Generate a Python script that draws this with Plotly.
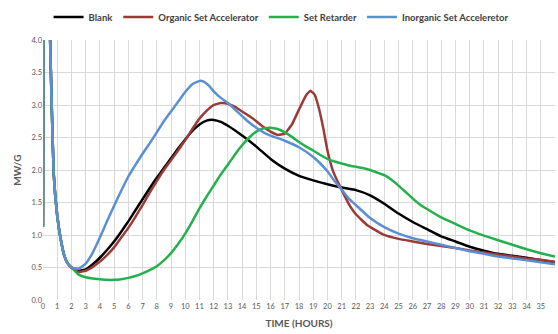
import plotly.graph_objects as go

# ---- data ----
t_early = [0, 0.1, 0.3, 0.5, 0.6, 0.75, 1.0, 1.25, 1.5, 1.75, 2.0]
v_early = [1.13, 9.0, 6.0, 4.0, 3.1, 1.95, 1.3, 0.93, 0.68, 0.56, 0.5]

blank_t = [2.5, 3, 3.5, 4, 4.5, 5, 5.5, 6, 6.5, 7, 7.5, 8, 8.5, 9, 9.5, 10, 10.5, 11, 11.5, 12, 12.5, 13,
           14, 15, 16, 17, 18, 19, 20, 21, 22, 23, 24, 25, 26, 27, 28, 29, 30, 31, 32, 33, 34, 35, 36]
blank_v = [0.45, 0.47, 0.55, 0.65, 0.77, 0.9, 1.05, 1.21, 1.38, 1.55, 1.72, 1.88, 2.03, 2.18, 2.33, 2.47, 2.6,
           2.7, 2.76, 2.77, 2.74, 2.68, 2.53, 2.36, 2.17, 2.02, 1.91, 1.84, 1.78, 1.73, 1.69, 1.61, 1.48,
           1.33, 1.2, 1.09, 0.98, 0.9, 0.82, 0.76, 0.71, 0.68, 0.65, 0.61, 0.58]

organic_t = [2.5, 3, 3.5, 4, 4.5, 5, 5.5, 6, 6.5, 7, 7.5, 8, 8.5, 9, 9.5, 10, 10.5, 11, 11.5, 12, 12.5, 13,
             13.5, 14, 14.5, 15, 15.5, 16, 16.5, 17, 17.5, 18, 18.5, 18.8, 19.1, 19.4, 19.7, 20, 20.4, 20.9,
             21.6, 22, 22.8, 23.9, 25, 26, 27, 28, 29, 30, 31, 32, 33, 34, 35, 36]
organic_v = [0.43, 0.45, 0.51, 0.59, 0.69, 0.81, 0.96, 1.11, 1.28, 1.46, 1.65, 1.83, 2.0, 2.15, 2.3, 2.46, 2.63,
             2.79, 2.91, 3.0, 3.03, 3.02, 2.97, 2.9, 2.83, 2.75, 2.66, 2.59, 2.54, 2.56, 2.7, 2.93, 3.15,
             3.22, 3.16, 2.95, 2.65, 2.3, 1.98, 1.74, 1.44, 1.32, 1.15, 1.01, 0.94, 0.9, 0.86, 0.83, 0.8,
             0.76, 0.73, 0.7, 0.67, 0.64, 0.62, 0.59]

retarder_t = [2.5, 3, 3.5, 4, 4.5, 5, 5.5, 6, 6.5, 7, 7.5, 8, 8.5, 9, 9.5, 10, 10.5, 11, 11.5, 12, 12.5, 13,
              13.5, 14, 14.5, 15, 15.5, 16, 16.5, 17, 17.5, 18, 18.5, 19, 19.5, 20, 20.5, 21, 21.5, 22,
              22.5, 23, 23.5, 24, 24.5, 25, 25.5, 26, 26.5, 27, 28, 29, 30, 31, 32, 33, 34, 35, 36]
retarder_v = [0.39, 0.35, 0.33, 0.32, 0.31, 0.31, 0.32, 0.34, 0.37, 0.41, 0.46, 0.52, 0.61, 0.72, 0.86,
              1.02, 1.21, 1.41, 1.59, 1.76, 1.93, 2.08, 2.24, 2.38, 2.5, 2.59, 2.64, 2.65, 2.63, 2.58, 2.51,
              2.43, 2.36, 2.3, 2.23, 2.17, 2.13, 2.1, 2.07, 2.05, 2.03, 2.0, 1.96, 1.92, 1.85, 1.76, 1.66,
              1.56, 1.47, 1.4, 1.27, 1.17, 1.07, 0.99, 0.92, 0.85, 0.78, 0.72, 0.67]

inorganic_t = [2.5, 3, 3.5, 4, 4.5, 5, 5.5, 6, 6.5, 7, 7.5, 8, 8.5, 9, 9.5, 10, 10.5, 11, 11.3, 11.7, 12,
               12.5, 13, 13.5, 14, 14.5, 15, 15.5, 16, 17, 18, 19, 19.5, 20, 20.5, 21, 21.5, 22, 23, 24,
               25, 26, 27, 28, 29, 30, 31, 32, 33, 34, 35, 36]
inorganic_v = [0.48, 0.56, 0.73, 0.96, 1.21, 1.45, 1.68, 1.9, 2.08, 2.25, 2.41, 2.58, 2.75, 2.9, 3.05, 3.2,
               3.32, 3.37, 3.36, 3.29, 3.21, 3.11, 3.03, 2.93, 2.83, 2.73, 2.65, 2.58, 2.53, 2.45, 2.35, 2.2,
               2.1, 1.98, 1.83, 1.7, 1.56, 1.46, 1.26, 1.12, 1.02, 0.95, 0.9, 0.85, 0.8, 0.75, 0.71, 0.67,
               0.64, 0.61, 0.58, 0.55]

series = [
    ("Blank", blank_t, blank_v, "#000000"),
    ("Organic Set Accelerator", organic_t, organic_v, "#9B3B38"),
    ("Set Retarder", retarder_t, retarder_v, "#25B04E"),
    ("Inorganic Set Acceleretor", inorganic_t, inorganic_v, "#5B8FD3"),
]

x_ticks = list(range(0, 37))
y_ticks = [0.0, 0.5, 1.0, 1.5, 2.0, 2.5, 3.0, 3.5, 4.0]

fig = go.Figure()
for name, t, v, color in series:
    fig.add_trace(go.Scatter(
        x=t_early + t, y=v_early + v, mode="lines", name=name,
        line=dict(color=color, width=2.5, shape="spline", smoothing=0.3),
    ))

fig.update_layout(
    width=558, height=334,
    margin=dict(l=43, r=3, t=40, b=34),
    paper_bgcolor="white", plot_bgcolor="white",
    font=dict(family="Lato", color="#595959"),
    showlegend=True,
    legend=dict(orientation="h", x=0.465, xanchor="center", y=1.088, yanchor="middle",
                font=dict(size=9.5, color="#404040", family="Lato", weight="bold"),
                itemwidth=30, tracegroupgap=0, bgcolor="rgba(0,0,0,0)"),
    xaxis=dict(range=[0, 36], tickmode="array", tickvals=x_ticks,
               ticktext=[str(v) for v in x_ticks],
               showgrid=True, gridcolor="#D9D9D9", gridwidth=1, zeroline=False,
               showline=False, ticks="", tickfont=dict(size=7.5, color="#595959"),
               title=dict(text="<b>TIME (HOURS)</b>", font=dict(size=10, color="#595959"), standoff=10)),
    yaxis=dict(range=[0, 4], tickmode="array", tickvals=y_ticks,
               ticktext=[f"{v:.1f}" for v in y_ticks],
               showgrid=True, gridcolor="#D9D9D9", gridwidth=1, zeroline=False,
               showline=False, ticks="", tickfont=dict(size=7.5, color="#595959"),
               title=dict(text="<b>MW/G</b>", font=dict(size=10, color="#595959"), standoff=8)),
)

fig.write_html("out.html")
